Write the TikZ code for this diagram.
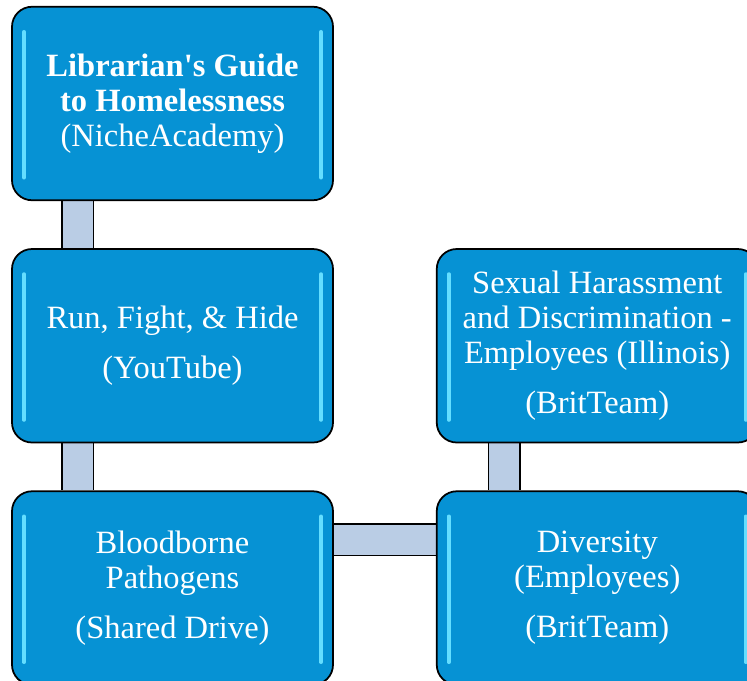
\documentclass[tikz,border=0pt]{standalone}
\usepackage{fontspec}
\setmainfont{Liberation Serif}
\usetikzlibrary{positioning, backgrounds}

\definecolor{boxblue}{RGB}{6,146,212}
\definecolor{glowcyan}{RGB}{100,222,255}
\definecolor{barblue}{RGB}{186,205,229}

\begin{document}
\begin{tikzpicture}[
  node distance=0.94cm and 2.04cm,
  topic/.style={draw=black, line width=1pt, fill=boxblue, rounded corners=0.4cm,
    text=white, align=center, minimum width=6.42cm, minimum height=3.87cm,
    font=\fontsize{18.5}{20}\selectfont,
    path picture={
      \draw[glowcyan, line width=2pt, line cap=round]
        ([xshift=0.24cm, yshift=-0.5cm]path picture bounding box.north west) --
        ([xshift=0.24cm, yshift=0.45cm]path picture bounding box.south west);
      \draw[glowcyan, line width=2pt, line cap=round]
        ([xshift=-0.24cm, yshift=-0.5cm]path picture bounding box.north east) --
        ([xshift=-0.24cm, yshift=0.45cm]path picture bounding box.south east);
    }},
  link/.style={draw=black, line width=1pt, double=barblue, double distance=0.6cm}
]
\useasboundingbox (0,0) rectangle (14.94,-13.62);

\node[topic] (guide) at (3.45,-2.07) {\textbf{Librarian\textquotesingle s Guide}\\\textbf{to Homelessness}\\(NicheAcademy)};
\node[topic, below=of guide] (runhide) {Run, Fight, \& Hide\\[0.3cm](YouTube)};
\node[topic, below=of runhide] (blood) {Bloodborne\\Pathogens\\[0.3cm](Shared Drive)};
\node[topic, right=of blood] (diversity) {Diversity\\(Employees)\\[0.3cm](BritTeam)};
\node[topic, above=of diversity] (harass) {Sexual Harassment\\and Discrimination -\\Employees (Illinois)\\[0.3cm](BritTeam)};

\begin{scope}[on background layer]
\draw[link] ([xshift=-1.9cm]guide.south) -- ([xshift=-1.9cm]runhide.north);
\draw[link] ([xshift=-1.9cm]runhide.south) -- ([xshift=-1.9cm]blood.north);
\draw[link] ([yshift=0.97cm]blood.east) -- ([yshift=0.97cm]diversity.west);
\draw[link] ([xshift=-1.86cm]harass.south) -- ([xshift=-1.86cm]diversity.north);
\end{scope}

\end{tikzpicture}
\end{document}
